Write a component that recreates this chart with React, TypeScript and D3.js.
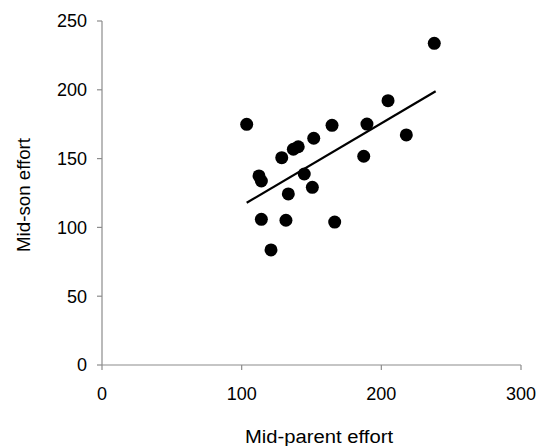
import React from "react";
import * as d3 from "d3";

// mid-parent effort vs mid-son effort
const parentEffort = [103.6, 112.4, 114.1, 128.7, 137.0, 140.5, 151.6, 164.7, 189.7, 204.8, 237.9, 217.9, 187.4, 144.8, 150.6, 133.4, 114.1, 131.7, 166.6, 121.0];
const sonEffort = [174.9, 137.4, 133.7, 150.7, 156.8, 158.6, 164.8, 174.2, 175.1, 192.1, 233.8, 167.2, 151.7, 138.8, 129.1, 124.3, 105.9, 105.2, 103.9, 83.6];
// fitted regression line end points
const fitX = [103.6, 238.9];
const fitY = [117.9, 198.9];
const xTicks = [0, 100, 200, 300];
const yTicks = [0, 50, 100, 150, 200, 250];

const W = 540;
const H = 446;
const margin = { left: 102, right: 19, top: 21, bottom: 81 };

export default function App() {
  const x = d3.scaleLinear().domain([0, 300]).range([margin.left, W - margin.right]);
  const y = d3.scaleLinear().domain([0, 250]).range([H - margin.bottom, margin.top]);
  const axisColor = "#8c8c8c";
  const font = "'Liberation Sans', Arial, sans-serif";

  const line = d3.line<number>().x((d) => x(d)).y((d, i) => y(fitY[i]));

  return (
    <svg width={W} height={H} style={{ position: "absolute", left: 0, top: 0, background: "#fff" }}>
      {/* y axis */}
      <line x1={x(0)} x2={x(0)} y1={y(0)} y2={y(250)} stroke={axisColor} strokeWidth={1.2} />
      {yTicks.map((t) => (
        <g key={"y" + t}>
          <line x1={x(0) - 5} x2={x(0)} y1={y(t)} y2={y(t)} stroke={axisColor} strokeWidth={1.2} />
          <text x={x(0) - 15} y={y(t)} dy="0.36em" textAnchor="end" fontFamily={font} fontSize={18}>
            {t}
          </text>
        </g>
      ))}
      {/* x axis */}
      <line x1={x(0)} x2={x(300)} y1={y(0)} y2={y(0)} stroke={axisColor} strokeWidth={1.2} />
      {xTicks.map((t) => (
        <g key={"x" + t}>
          <line x1={x(t)} x2={x(t)} y1={y(0)} y2={y(0) + 5} stroke={axisColor} strokeWidth={1.2} />
          <text x={x(t)} y={y(0) + 35} textAnchor="middle" fontFamily={font} fontSize={18}>
            {t}
          </text>
        </g>
      ))}
      <text x={319} y={443} textAnchor="middle" fontFamily={font} fontSize={18} textLength={148} lengthAdjust="spacingAndGlyphs">
        Mid-parent effort
      </text>
      <text transform={`translate(30, 195) rotate(-90)`} textAnchor="middle" fontFamily={font} fontSize={18} textLength={114} lengthAdjust="spacingAndGlyphs">
        Mid-son effort
      </text>
      {/* points */}
      {parentEffort.map((p, i) => (
        <circle key={i} cx={x(p)} cy={y(sonEffort[i])} r={6.5} fill="#000" />
      ))}
      <path d={line(fitX) || ""} fill="none" stroke="#000" strokeWidth={2.2} />
    </svg>
  );
}
